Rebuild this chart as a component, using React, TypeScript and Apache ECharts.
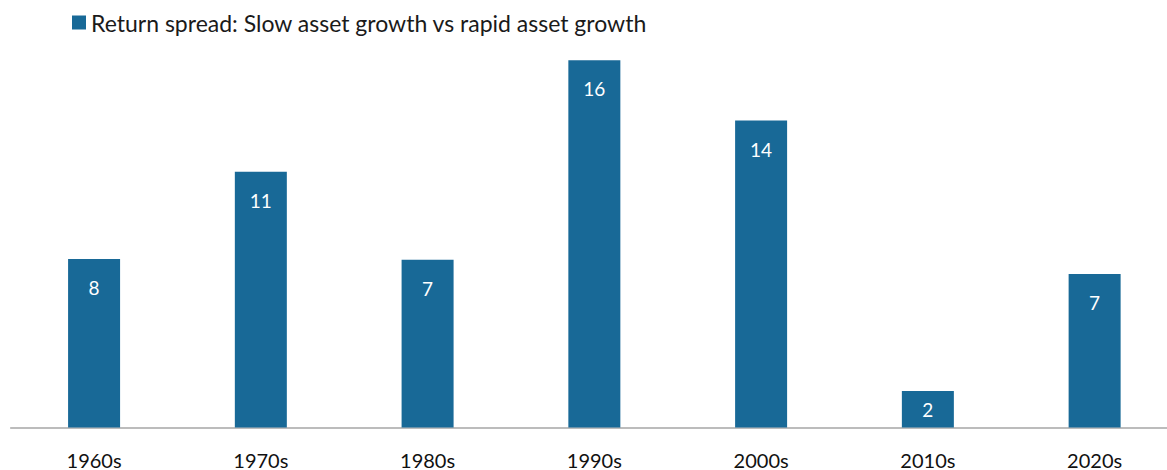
import React, { useEffect, useRef } from "react";
import * as echarts from "echarts";

const categories = ["1960s", "1970s", "1980s", "1990s", "2000s", "2010s", "2020s"];
const spreadValues = [7.52, 11.42, 7.49, 16.4, 13.7, 1.63, 6.85];
const seriesName = "Return spread: Slow asset growth vs rapid asset growth";

export default function App() {
  const ref = useRef<HTMLDivElement>(null);
  useEffect(() => {
    if (!ref.current) return;
    const chart = echarts.init(ref.current, null, { renderer: "svg" });
    const font = "'Source Sans Pro', Lato, 'Noto Sans', sans-serif";
    chart.setOption({
      animation: false,
      textStyle: { fontFamily: font },
      legend: {
        data: [seriesName],
        left: 67,
        top: 6,
        icon: "rect",
        itemWidth: 14,
        itemHeight: 14,
        textStyle: { fontFamily: font, fontSize: 23, color: "#1a1a1a" },
      },
      grid: { left: 10.7, right: 0, top: 46.7, bottom: 42.5, containLabel: false },
      xAxis: {
        type: "category",
        data: categories,
        axisLine: { show: true, lineStyle: { color: "#a6a6a6", width: 1.5 } },
        axisTick: { show: false },
        axisLabel: { fontFamily: font, fontSize: 20, color: "#111", margin: 22 },
      },
      yAxis: {
        type: "value",
        min: 0,
        max: 17,
        show: false,
        splitLine: { show: false },
      },
      series: [
        {
          name: seriesName,
          type: "bar",
          data: spreadValues.map((v) =>
            v < 3 ? { value: v, label: { position: "inside" } } : v
          ),
          barWidth: 52,
          itemStyle: { color: "#186997" },
          label: {
            show: true,
            position: "insideTop",
            distance: 19,
            color: "#ffffff",
            fontFamily: font,
            fontSize: 19,
            formatter: (p: any) => String(Math.round(p.value)),
          },
        },
      ],
    });
    return () => chart.dispose();
  }, []);
  return (
    <div
      style={{
        position: "absolute",
        left: 0,
        top: 0,
        width: 1167,
        height: 470,
        overflow: "hidden",
        background: "#fff",
      }}
    >
      <div ref={ref} style={{ width: 1178, height: 470 }} />
    </div>
  );
}
